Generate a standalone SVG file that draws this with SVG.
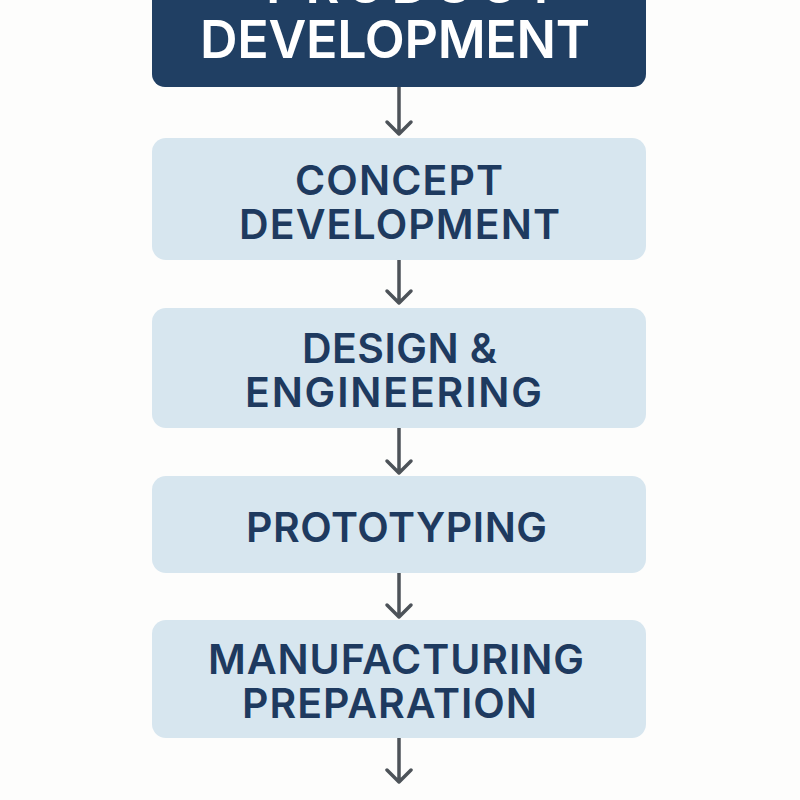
<svg xmlns="http://www.w3.org/2000/svg" width="800" height="800" viewBox="0 0 800 800">
<defs>
<style>
.bg{fill:#fdfdfc}
.top{fill:#203f63}
.box{fill:#d7e6ef}
.tw{font-family:Inter,"Liberation Sans",sans-serif;font-weight:600;fill:#ffffff;font-size:52px;text-anchor:middle}
.td{font-family:Inter,"Liberation Sans",sans-serif;font-weight:600;fill:#1e3a5f;font-size:41px;text-anchor:middle}
.con{stroke:#4d5359;stroke-width:3.5;fill:none;stroke-linecap:round;stroke-linejoin:round}
</style>
</defs>
<rect class="bg" x="0" y="0" width="800" height="800"/>
<g id="connectors">
<path class="con" d="M399,87 V134 M387,122 L399,134 L411,122"/>
<path class="con" d="M399,260 V303 M387,291 L399,303 L411,291"/>
<path class="con" d="M399,428 V473 M387,461 L399,473 L411,461"/>
<path class="con" d="M399,573 V617 M387,605 L399,617 L411,605"/>
<path class="con" d="M399,738 V782 M387,770 L399,782 L411,770"/>
</g>
<g id="node-product-development">
<rect class="top" x="152" y="-20" width="494" height="107" rx="13"/>
<text class="tw" x="412" y="3" textLength="292" lengthAdjust="spacing">PRODUCT</text>
<text class="tw" x="395" y="58" textLength="390" lengthAdjust="spacing">DEVELOPMENT</text>
</g>
<g id="node-concept-development">
<rect class="box" x="152" y="138" width="494" height="122" rx="14"/>
<text class="td" x="399" y="195" textLength="208" lengthAdjust="spacing">CONCEPT</text>
<text class="td" x="399.5" y="239" textLength="321" lengthAdjust="spacing">DEVELOPMENT</text>
</g>
<g id="node-design-engineering">
<rect class="box" x="152" y="308" width="494" height="120" rx="14"/>
<text class="td" x="399.5" y="363" textLength="195" lengthAdjust="spacing">DESIGN &amp;</text>
<text class="td" x="393.5" y="407" textLength="297" lengthAdjust="spacing">ENGINEERING</text>
</g>
<g id="node-prototyping">
<rect class="box" x="152" y="476" width="494" height="97" rx="14"/>
<text class="td" x="396.5" y="542" textLength="301" lengthAdjust="spacing">PROTOTYPING</text>
</g>
<g id="node-manufacturing-preparation">
<rect class="box" x="152" y="620" width="494" height="118" rx="14"/>
<text class="td" x="396" y="674" textLength="376" lengthAdjust="spacing">MANUFACTURING</text>
<text class="td" x="389.5" y="718" textLength="295" lengthAdjust="spacing">PREPARATION</text>
</g>
</svg>
